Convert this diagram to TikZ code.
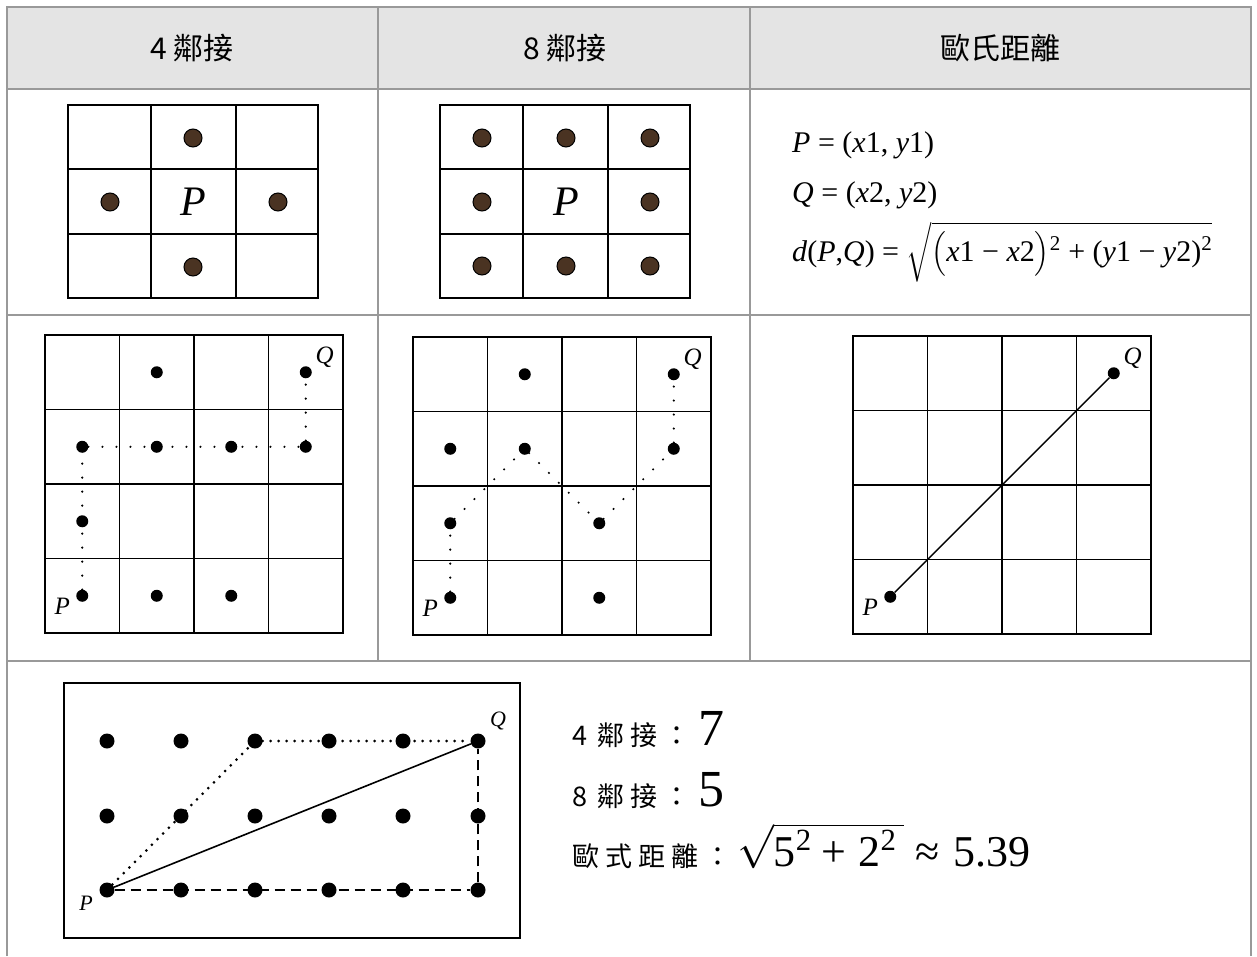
\RequirePackage{fix-cm}
\documentclass[tikz,border=0pt]{standalone}
\usepackage{amsmath}
\usepackage{exscale}
\usepackage{fontspec}
\setmainfont{Liberation Serif}
\newfontfamily\cjk{Noto Sans CJK TC}
\usetikzlibrary{positioning}

\definecolor{rulegray}{HTML}{999999}
\definecolor{headgray}{HTML}{E4E4E4}
\definecolor{dotbrown}{HTML}{4A3322}

\newcommand{\cs}{\hspace{6pt}}

\tikzset{
  tblline/.style={draw=rulegray, line width=2pt},
  gridline/.style={line width=1.4pt},
  dot/.style={circle, fill=black, inner sep=0pt, minimum size=12pt},
  bigdot/.style={circle, draw=black, fill=dotbrown, line width=1pt, inner sep=0pt, minimum size=18pt},
  rowdot/.style={circle, fill=black, inner sep=0pt, minimum size=15pt},
  lbl/.style={font=\fontsize{25}{27}\selectfont\itshape, inner sep=0pt},
  head/.style={font=\cjk\fontsize{30}{32}\selectfont},
  sparse/.style={line width=2.4pt, line cap=round, dash pattern=on 0pt off 14pt},
  dense/.style={line width=3pt, line cap=round, dash pattern=on 0pt off 8pt},
  formula/.style={anchor=base west, inner sep=0pt, font=\fontsize{30}{32}\selectfont},
  sumline/.style={anchor=base west, inner sep=0pt},
}

\begin{document}
\begin{tikzpicture}[x=1pt, y=-1pt]
  \useasboundingbox (0,0) rectangle (1257,956);

  % table
  \fill[headgray] (7,7) rectangle (1251,89);
  \draw[tblline] (7,956) -- (7,7) -- (1251,7) -- (1251,956);
  \draw[tblline] (7,89) -- (1251,89);
  \draw[tblline] (7,315) -- (1251,315);
  \draw[tblline] (7,661) -- (1251,661);
  \draw[tblline] (378,7) -- (378,661);
  \draw[tblline] (750,7) -- (750,661);

  \node[head] (h4) at (192,48) {4 鄰接};
  \node[head] (h8) at (565,48) {8 鄰接};
  \node[head] (he) at (1000,48) {歐氏距離};

  % 4-neighbours, 3x3
  \draw[gridline] (68,105) rectangle (318,298);
  \draw[gridline] (151,105) -- (151,298) (236,105) -- (236,298);
  \draw[gridline] (68,169) -- (318,169) (68,234) -- (318,234);
  \node[font=\fontsize{42}{44}\selectfont\itshape] (p4) at (193,202) {P};
  \node[bigdot] (n4t) at (193,138) {};
  \node[bigdot] (n4l) at (110,202) {};
  \node[bigdot] (n4r) at (278,202) {};
  \node[bigdot] (n4b) at (193,267) {};

  % 8-neighbours, 3x3
  \draw[gridline] (440,105) rectangle (690,298);
  \draw[gridline] (523,105) -- (523,298) (608,105) -- (608,298);
  \draw[gridline] (440,169) -- (690,169) (440,234) -- (690,234);
  \node[font=\fontsize{42}{44}\selectfont\itshape] (p8) at (566,202) {P};
  \foreach \i/\x in {0/482,1/566,2/650}
    \foreach \j/\y in {0/138,1/202,2/266}{
      \ifnum\i=1 \ifnum\j=1 \else \node[bigdot] (n8-\i-\j) at (\x,\y) {}; \fi
      \else \node[bigdot] (n8-\i-\j) at (\x,\y) {}; \fi
    }

  % formulas
  \node[formula] (f1) at (792,152) {\textit{P} = (\textit{x}1, \textit{y}1)};
  \node[formula] (f2) at (792,202) {\textit{Q} = (\textit{x}2, \textit{y}2)};
  \node[formula] (f3) at (792,261)
    {\textit{d}(\textit{P},\textit{Q}) = $\sqrt{\hbox{$\bigl($\textit{x}1 − \textit{x}2$\bigr)$\textsuperscript{2} + (\textit{y}1 − \textit{y}2)\textsuperscript{2}}}$};

  % 4x4 grids
  \foreach \gx/\gy/\g in {45/335/a, 413/337/b, 853/336/c}{
    \draw[gridline] (\gx,\gy) rectangle ++(298,298);
    \foreach \k in {1,2,3}{
      \draw[gridline] (\gx+74.5*\k,\gy) -- ++(0,298);
      \draw[gridline] (\gx,\gy+74.5*\k) -- ++(298,0);
    }
    \foreach \i in {0,...,3}
      \foreach \j in {0,...,3}
        \coordinate (\g-\i-\j) at (\gx+37.25+74.5*\i,\gy+37.25+74.5*\j);
  }

  % 4-connected path
  \foreach \c in {1-0,3-0,0-1,1-1,2-1,3-1,0-2,0-3,1-3,2-3}
    \node[dot] (da-\c) at (a-\c) {};
  \draw[sparse] (da-0-3) -- (da-0-1) -- (da-3-1) -- (da-3-0);
  \node[lbl] (qa) at ([shift={(19,-15)}]da-3-0) {Q};
  \node[lbl] (pa) at ([shift={(-20,11)}]da-0-3) {P};

  % 8-connected path
  \foreach \c in {1-0,3-0,0-1,1-1,3-1,0-2,2-2,0-3,2-3}
    \node[dot] (db-\c) at (b-\c) {};
  \draw[sparse] (db-0-3) -- (db-0-2) -- (db-1-1) -- (db-2-2) -- (db-3-1) -- (db-3-0);
  \node[lbl] (qb) at ([shift={(19,-15)}]db-3-0) {Q};
  \node[lbl] (pb) at ([shift={(-20,11)}]db-0-3) {P};

  % euclidean
  \node[dot] (dc-p) at (c-0-3) {};
  \node[dot] (dc-q) at (c-3-0) {};
  \draw[line width=1.4pt] (dc-p) -- (dc-q);
  \node[lbl] (qc) at ([shift={(19,-15)}]dc-q) {Q};
  \node[lbl] (pc) at ([shift={(-20,11)}]dc-p) {P};

  % comparison
  \draw[gridline] (64,683) rectangle (520,938);
  \foreach \i/\x in {0/107,1/181,2/255,3/329,4/403,5/478}
    \foreach \j/\y in {0/741,1/816,2/890}
      \node[rowdot] (r-\i-\j) at (\x,\y) {};
  \draw[dense] (r-0-2) -- (r-2-0) -- (r-5-0);
  \draw[line width=1.6pt] (r-0-2) -- (r-5-0);
  \draw[dash pattern=on 10pt off 6pt, line width=1.6pt] (r-0-2) -- (r-5-2) -- (r-5-0);
  \node[lbl, font=\fontsize{22}{24}\selectfont\itshape] (qr) at ([shift={(20,-20)}]r-5-0) {Q};
  \node[lbl, font=\fontsize{22}{24}\selectfont\itshape] (pr) at ([shift={(-21,13)}]r-0-2) {P};

  \node[sumline] (t4) at (572,745)
    {{\cjk\fontsize{27}{29}\selectfont 4\hspace{10pt}鄰\cs 接\cs ：}\hspace{8pt}{\fontsize{52}{54}\selectfont 7}};
  \node[sumline] (t8) at (572,806)
    {{\cjk\fontsize{27}{29}\selectfont 8\hspace{10pt}鄰\cs 接\cs ：}\hspace{8pt}{\fontsize{52}{54}\selectfont 5}};
  \node[sumline] (te) at (572,866)
    {{\cjk\fontsize{27}{29}\selectfont 歐\cs 式\cs 距\cs 離\cs ：}\hspace{6pt}{\fontsize{44}{46}\selectfont $\sqrt{\hbox{5\textsuperscript{2}\hspace{10pt}+\hspace{12pt}2\textsuperscript{2}\,}}$\hspace{12pt}≈\hspace{14pt}5.39}};
\end{tikzpicture}
\end{document}
